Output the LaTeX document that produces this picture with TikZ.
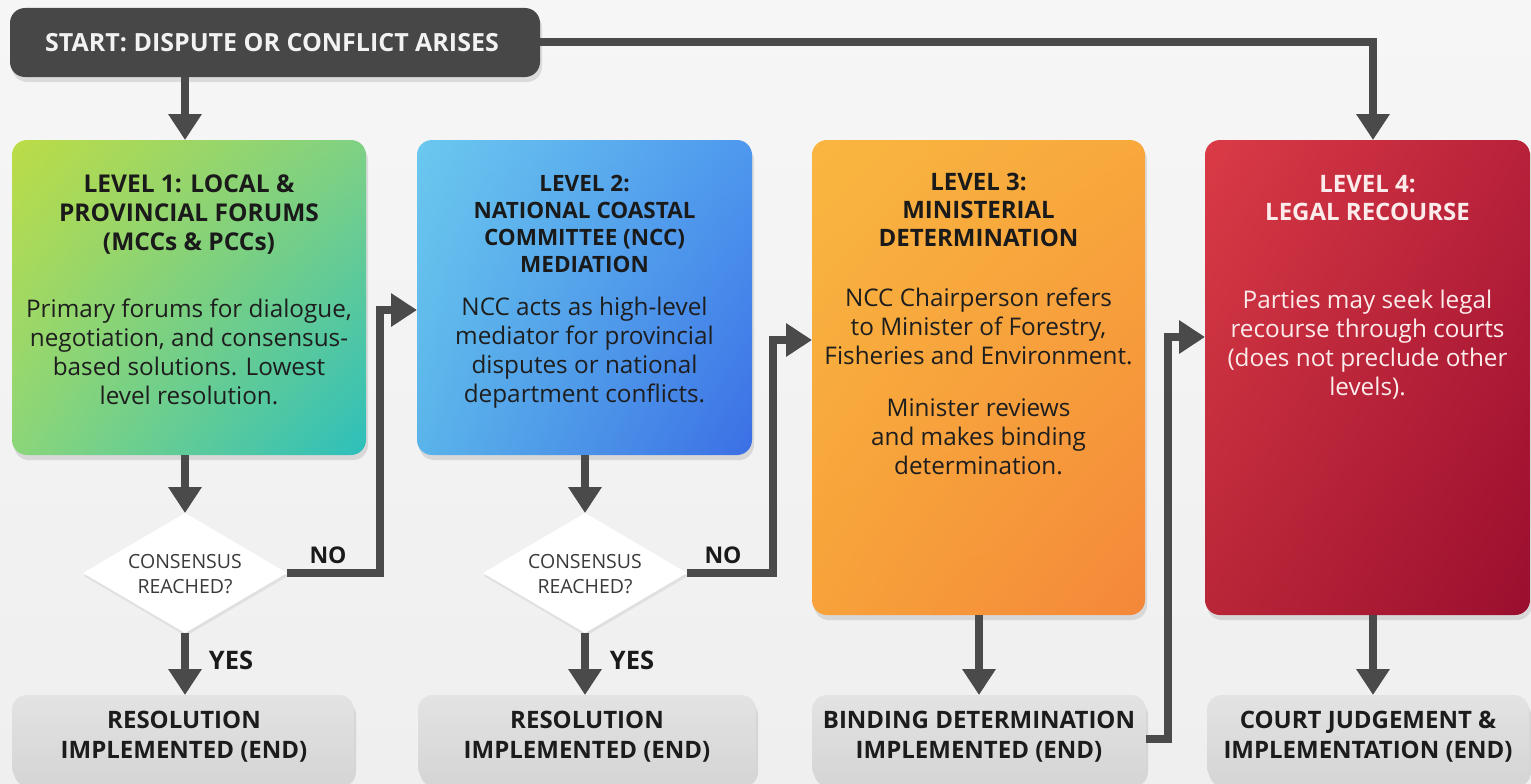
\documentclass[tikz,border=0pt]{standalone}
\usepackage{fontspec}
\setmainfont{Open Sans}
\usetikzlibrary{arrows.meta,shapes.geometric,shadows,shadings,calc}
\definecolor{bgtop}{HTML}{F6F6F6}
\definecolor{bgbot}{HTML}{EFEFF0}
\definecolor{arrowgray}{HTML}{4A4A4A}
\definecolor{startgray}{HTML}{474747}
\definecolor{starttext}{HTML}{F2F2F2}
\definecolor{titletext}{HTML}{1A1A1A}
\definecolor{bodytext}{HTML}{1E1E1E}
\definecolor{lfourtext}{HTML}{FCEBEB}
\definecolor{endtop}{HTML}{E3E3E3}
\definecolor{endbot}{HTML}{D5D5D5}
\definecolor{endtext}{HTML}{1C1C1C}
\definecolor{diatext}{HTML}{3A3A3A}
\definecolor{oneUL}{HTML}{BCDC46}
\definecolor{oneUR}{HTML}{7FD184}
\definecolor{oneLL}{HTML}{8BD67A}
\definecolor{oneLR}{HTML}{2DBFBC}
\definecolor{twoUL}{HTML}{6BC8EE}
\definecolor{twoUR}{HTML}{4E98EE}
\definecolor{twoLL}{HTML}{5AB4EA}
\definecolor{twoLR}{HTML}{3B6FE5}
\definecolor{threeUL}{HTML}{F9B640}
\definecolor{threeUR}{HTML}{F8A83C}
\definecolor{threeLL}{HTML}{F7A23A}
\definecolor{threeLR}{HTML}{F4873A}
\definecolor{fourUL}{HTML}{DA3B46}
\definecolor{fourUR}{HTML}{B8213A}
\definecolor{fourLL}{HTML}{B92638}
\definecolor{fourLR}{HTML}{9A0E2E}
\begin{document}
\begin{tikzpicture}[x=1pt,y=-1pt,
  boxshadow/.style={drop shadow={opacity=0.22, shadow xshift=2pt, shadow yshift=-5pt}},
  lvl/.style={rectangle, rounded corners=15pt, inner sep=0pt, outer sep=0pt, boxshadow},
  endbox/.style={rectangle, rounded corners=15pt, inner sep=0pt, outer sep=0pt,
    top color=endtop, bottom color=endbot, minimum height=87pt, boxshadow},
  ttl/.style={align=center, font=\bfseries\fontsize{24}{28}\selectfont, text=titletext, inner sep=0pt},
  bdy/.style={align=center, font=\fontsize{24.3}{29}\selectfont, text=bodytext, inner sep=0pt},
  endtxt/.style={align=center, font=\bfseries\fontsize{24}{30}\selectfont, text=endtext, inner sep=0pt},
  dia/.style={diamond, aspect=1.7, minimum width=204pt, minimum height=120pt, inner sep=0pt,
    outer sep=0pt, fill=white, drop shadow={opacity=0.15, shadow xshift=1pt, shadow yshift=-3pt}},
  diatxt/.style={align=center, font=\fontsize{19.5}{25}\selectfont, text=diatext, inner sep=0pt},
  arr/.style={draw=arrowgray, line width=8pt, -{Triangle[width=32pt,length=26pt]}},
  lbl/.style={font=\bfseries\fontsize{23}{23}\selectfont, text=titletext, inner sep=0pt}
]
\useasboundingbox (0,0) rectangle (1531,784);
\shade[top color=bgtop, bottom color=bgbot] (0,0) rectangle (1531,784);

% start
\node[lvl, fill=startgray, minimum width=530pt, minimum height=69pt] (start) at (275,42.5) {};
\node[anchor=west, font=\bfseries\fontsize{25}{25}\selectfont, text=starttext, inner sep=0pt] (startt) at (45,43) {START: DISPUTE OR CONFLICT ARISES};

% level boxes
\node[lvl, minimum width=354pt, minimum height=315pt,
  upper left=oneUL, upper right=oneUR, lower left=oneLL, lower right=oneLR] (L1) at (189,297.5) {};
\node[lvl, minimum width=335pt, minimum height=315pt,
  upper left=twoUL, upper right=twoUR, lower left=twoLL, lower right=twoLR] (L2) at (584.5,297.5) {};
\node[lvl, minimum width=333pt, minimum height=475pt,
  upper left=threeUL, upper right=threeUR, lower left=threeLL, lower right=threeLR] (L3) at (978.5,377.5) {};
\node[lvl, minimum width=325pt, minimum height=475pt,
  upper left=fourUL, upper right=fourUR, lower left=fourLL, lower right=fourLR] (L4) at (1367.5,377.5) {};

% level texts
\node[ttl, font=\bfseries\fontsize{24.5}{29}\selectfont] (L1t) at (189,215) {LEVEL 1: LOCAL \&\\PROVINCIAL FORUMS\\(MCCs \& PCCs)};
\node[bdy] (L1b) at (189,352) {Primary forums for dialogue,\\negotiation, and consensus-\\based solutions. Lowest\\level resolution.};
\node[ttl, font=\bfseries\fontsize{22.5}{27.3}\selectfont] (L2t) at (584.5,224) {LEVEL 2:\\NATIONAL COASTAL\\COMMITTEE (NCC)\\MEDIATION};
\node[bdy] (L2b) at (584.5,352.5) {NCC acts as high-level\\mediator for provincial\\disputes or national\\department conflicts.};
\node[ttl] (L3t) at (978.5,209.5) {LEVEL 3:\\MINISTERIAL\\DETERMINATION};
\node[bdy] (L3b) at (978.5,326.5) {NCC Chairperson refers\\to Minister of Forestry,\\Fisheries and Environment.};
\node[bdy] (L3c) at (978.5,436.5) {Minister reviews\\and makes binding\\determination.};
\node[ttl, text=lfourtext] (L4t) at (1367.5,198) {LEVEL 4:\\LEGAL RECOURSE};
\node[bdy, text=lfourtext] (L4b) at (1367.5,345) {Parties may seek legal\\recourse through courts\\(does not preclude other\\levels).};

% diamonds
\node[dia] (D1) at (185,573) {};
\node[diatxt] (D1t) at ([yshift=-1pt]D1.center) {CONSENSUS\\REACHED?};
\node[dia] (D2) at (585,573) {};
\node[diatxt] (D2t) at ([yshift=-1pt]D2.center) {CONSENSUS\\REACHED?};

% end boxes
\node[endbox, minimum width=342pt] (B1) at (183,738.5) {};
\node[endbox, minimum width=338pt] (B2) at (587,738.5) {};
\node[endbox, minimum width=334pt] (B3) at (979,738.5) {};
\node[endbox, minimum width=322pt] (B4) at (1368,738.5) {};
\node[endtxt] (B1t) at (184,737) {RESOLUTION\\IMPLEMENTED (END)};
\node[endtxt] (B2t) at (587,737) {RESOLUTION\\IMPLEMENTED (END)};
\node[endtxt] (B3t) at (979,737) {BINDING DETERMINATION\\IMPLEMENTED (END)};
\node[endtxt] (B4t) at (1368,737) {COURT JUDGEMENT \&\\IMPLEMENTATION (END)};

% helper coordinates
\coordinate (c3) at (979,0);
\coordinate (c4) at (1373,0);
\coordinate (n1) at (380,310);
\coordinate (n2) at (773,340);
\coordinate (n3) at (1168,337);

% connectors
\draw[arr] (start.south -| D1.center) -- (L1.north -| D1.center);
\draw[arr] (L1.south -| D1.center) -- (D1.north);
\draw[arr] (D1.south) -- (B1.north -| D1.center);
\draw[arr] (D1.east) -| (n1) -- (n1 -| L2.west);
\draw[arr] (L2.south -| D2.center) -- (D2.north);
\draw[arr] (D2.south) -- (B2.north -| D2.center);
\draw[arr] (D2.east) -| (n2) -- (n2 -| L3.west);
\draw[arr] (L3.south -| c3) -- (B3.north -| c3);
\draw[arr] (B3.east) -| (n3) -- (n3 -| L4.west);
\draw[arr] (start.east) -| (L4.north -| c4);
\draw[arr] (L4.south -| c4) -- (B4.north -| c4);

% labels
\node[lbl] (no1) at (328,555) {NO};
\node[lbl, font=\bfseries\fontsize{25.5}{25.5}\selectfont] (yes1) at (231,660) {YES};
\node[lbl] (no2) at (723,555) {NO};
\node[lbl, font=\bfseries\fontsize{25.5}{25.5}\selectfont] (yes2) at (632,660) {YES};
\end{tikzpicture}
\end{document}
